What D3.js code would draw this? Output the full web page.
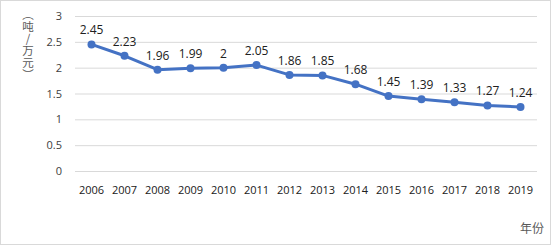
<!DOCTYPE html>
<html><head><meta charset="utf-8">
<script src="https://cdn.jsdelivr.net/npm/d3@7"></script>
<style>body{margin:0;background:#fff;position:relative}svg{display:block}
.ytitle{position:absolute;writing-mode:vertical-rl;text-orientation:upright;font-family:'Noto Sans CJK SC',sans-serif;font-size:11.5px;line-height:14px;color:#595959;white-space:nowrap;letter-spacing:0.5px}</style>
</head><body>
<script>
const years = ["2006","2007","2008","2009","2010","2011","2012","2013","2014","2015","2016","2017","2018","2019"];
const values = [2.45,2.23,1.96,1.99,2,2.05,1.86,1.85,1.68,1.45,1.39,1.33,1.27,1.24];
const yTicks = [0,0.5,1,1.5,2,2.5,3];
const yTitle = "（吨/万元）";
const xTitle = "年份";

const W=556,H=248;
const svg=d3.select("body").append("svg").attr("width",W).attr("height",H);
svg.append("rect").attr("x",0.5).attr("y",0.5).attr("width",550).attr("height",244).attr("fill","#fff").attr("stroke","#d9d9d9");
const x=d3.scaleBand().domain(years).range([75,537]);
const y=d3.scaleLinear().domain([0,3]).range([171,16]);
const font="'Open Sans','Liberation Sans',sans-serif";

const ga=svg.append("g").attr("transform","translate(75,0)")
 .call(d3.axisLeft(y).tickValues(yTicks).tickSize(-462).tickFormat(d=>String(d)).tickPadding(13));
ga.select(".domain").remove();
ga.selectAll("line").attr("stroke","#d9d9d9");
ga.selectAll("text").attr("fill","#404040").style("font-family",font).style("font-size","11px");

const gx=svg.append("g").attr("transform","translate(0,171)").call(d3.axisBottom(x).tickSize(0).tickPadding(15));
gx.select(".domain").remove();
gx.selectAll("text").attr("fill","#202020").style("font-family",font).style("font-size","11px");

const line=d3.line().x((d,i)=>x(years[i])+x.bandwidth()/2).y(d=>y(d));
svg.append("path").datum(values).attr("d",line).attr("fill","none").attr("stroke","#4472C4").attr("stroke-width",3).attr("stroke-linejoin","round");
svg.selectAll("circle.m").data(values).join("circle").attr("class","m")
 .attr("cx",(d,i)=>x(years[i])+x.bandwidth()/2).attr("cy",d=>y(d)).attr("r",4).attr("fill","#4472C4");
svg.selectAll("text.lbl").data(values).join("text").attr("class","lbl")
 .attr("x",(d,i)=>x(years[i])+x.bandwidth()/2).attr("y",d=>y(d)-10)
 .attr("text-anchor","middle").attr("fill","#202020").style("font-family",font).style("font-size","12px").text(d=>String(d));

// vertical y-axis title (vertical writing mode)
d3.select("body").append("div").attr("class","ytitle").style("left","21px").style("top","9px").text(yTitle);

svg.append("text").attr("x",544).attr("y",233).attr("text-anchor","end").attr("fill","#595959")
 .style("font-family","'Noto Sans CJK SC',sans-serif").style("font-size","12px").text(xTitle);
</script>
</body></html>
